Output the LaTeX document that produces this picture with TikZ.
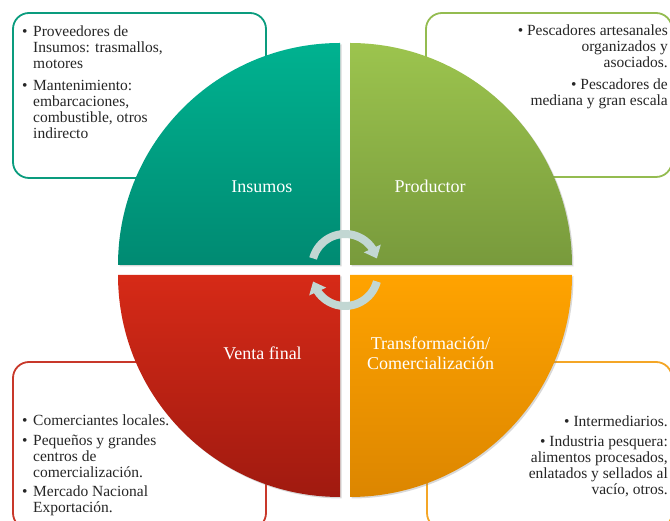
\documentclass[tikz,border=0pt]{standalone}
\usepackage{fontspec}
\setmainfont{Liberation Serif}
\usetikzlibrary{shadows,arrows.meta,bending,calc}
\definecolor{tealT}{HTML}{00B290}
\definecolor{tealB}{HTML}{008A72}
\definecolor{greenT}{HTML}{9CC44E}
\definecolor{greenB}{HTML}{789A3C}
\definecolor{redT}{HTML}{D62A17}
\definecolor{redB}{HTML}{A01A10}
\definecolor{orangeT}{HTML}{FFA300}
\definecolor{orangeB}{HTML}{DC8600}
\definecolor{tealL}{HTML}{0A9C7E}
\definecolor{greenL}{HTML}{94BC50}
\definecolor{redL}{HTML}{C8382A}
\definecolor{orangeL}{HTML}{F4A626}
\definecolor{cycgray}{HTML}{C2D7D3}
\tikzset{
  infobox/.style={line width=1.8pt, rounded corners=16pt, fill=white},
  quad/.style={drop shadow={shadow xshift=1.5pt,shadow yshift=-1.5pt,opacity=0.3}},
  qlabel/.style={text=white, font=\fontsize{18}{20}\selectfont, inner sep=0pt},
  btext/.style={font=\fontsize{15.5}{16}\selectfont, inner sep=0pt, text=black!85},
  cyc/.style={line width=8pt, draw=cycgray, -{Triangle[width=18pt,length=11pt]}}
}
\newcommand{\bul}{\makebox[11pt][l]{\textbullet}}
\newcommand{\ind}{\hspace*{11pt}}
\begin{document}
\begin{tikzpicture}[x=1pt,y=1pt]
\useasboundingbox (0,0) rectangle (670,521);
\clip (0,0) rectangle (670,521);
% info boxes
\draw[infobox, draw=tealL] (13,508) rectangle (266,343);
\draw[infobox, draw=greenL] (426,508) rectangle (672,344);
\draw[infobox, draw=redL] (13,159) rectangle (266,-8);
\draw[infobox, draw=orangeL] (427,159) rectangle (672,-8);
% quadrants
\shade[quad, top color=tealT, bottom color=tealB]
  (340,256) -- ++(0,222) arc[start angle=90,end angle=180,radius=222] -- cycle;
\shade[quad, top color=greenT, bottom color=greenB]
  (350,256) -- ++(222,0) arc[start angle=0,end angle=90,radius=222] -- cycle;
\shade[quad, top color=redT, bottom color=redB]
  (340,246) -- ++(-222,0) arc[start angle=180,end angle=270,radius=222] -- cycle;
\shade[quad, top color=orangeT, bottom color=orangeB]
  (350,246) -- ++(0,-222) arc[start angle=270,end angle=360,radius=222] -- cycle;
% cycle arrows
\coordinate (cu) at (345,254);
\coordinate (cd) at (345,248);
\draw[cyc] ($(cu)+(165:33)$) arc[start angle=165,end angle=15,radius=33];
\draw[cyc] ($(cd)+(-15:33)$) arc[start angle=-15,end angle=-165,radius=33];
% quadrant labels
\node[qlabel, anchor=base] (lins) at (262,328.3) {Insumos};
\node[qlabel, anchor=base] (lpro) at (430,328.3) {Productor};
\node[qlabel, anchor=base] (lven) at (262.5,161.7) {Venta final};
\node[qlabel, anchor=base] (ltra) at (430.5,171.7)
  {\begin{tabular}[t]{@{}c@{}}Transformación/\\Comercialización\end{tabular}};
% box texts
\node[btext, anchor=base west] (tins) at (22,484.3) {\begin{tabular}[t]{@{}l@{}}
\bul Proveedores de\\
\ind Insumos: trasmallos,\\
\ind motores\\[6pt]
\bul Mantenimiento:\\
\ind embarcaciones,\\
\ind combustible, otros\\
\ind indirecto
\end{tabular}};
\node[btext, anchor=base east] (tpro) at (668,485) {\begin{tabular}[t]{@{}r@{}}
\textbullet\ Pescadores artesanales\\
organizados y\\
asociados.\\[6pt]
\textbullet\ Pescadores de\\
mediana y gran escala
\end{tabular}};
\node[btext, anchor=base west] (tven) at (22,95.3) {\begin{tabular}[t]{@{}l@{}}
\bul Comerciantes locales.\\[3.5pt]
\bul Pequeños y grandes\\
\ind centros de\\
\ind comercialización.\\[3.5pt]
\bul Mercado Nacional\\
\ind Exportación.
\end{tabular}};
\node[btext, anchor=base east] (ttra) at (668,94.3) {\begin{tabular}[t]{@{}r@{}}
\textbullet\ Intermediarios.\\[4pt]
\textbullet\ Industria pesquera:\\
alimentos procesados,\\
enlatados y sellados al\\
vacío, otros.
\end{tabular}};
\end{tikzpicture}
\end{document}
